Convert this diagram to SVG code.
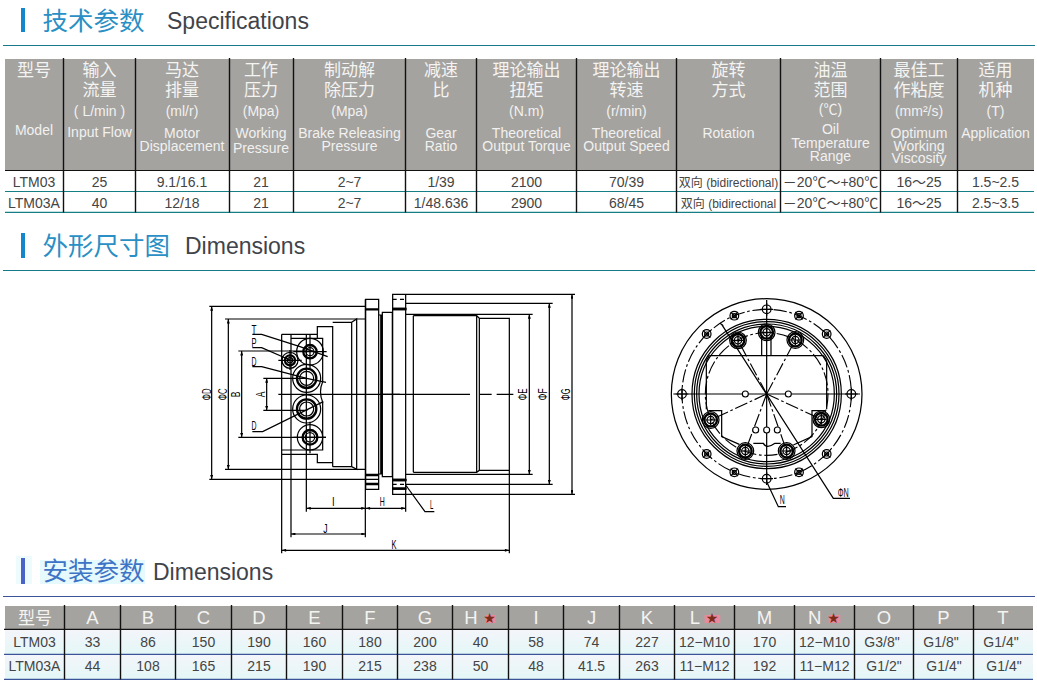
<svg xmlns="http://www.w3.org/2000/svg" width="1037" height="684" viewBox="0 0 1037 684">
<style>
text{font-family:"Liberation Sans","Noto Sans CJK SC",sans-serif}
.cn{font-size:25.5px;fill:#2a8fc4}
.en{font-size:23px;fill:#3f444a}
.hz{font-size:17px;fill:#f4f4f2;text-anchor:middle}
.he{font-size:14px;fill:#f1f1ef;text-anchor:middle}
.r{font-size:14px;fill:#444;text-anchor:middle}
.rs{font-size:12px;fill:#444;text-anchor:middle}
.hl{font-size:18.5px;fill:#f4f4f2;text-anchor:middle}
.st{font-size:14px;fill:#7a2c18;text-anchor:middle;font-family:"DejaVu Sans",sans-serif}
.sep{stroke:#111;stroke-width:1.4}
.d{fill:none;stroke:#000;stroke-width:3.7}
.th{fill:none;stroke:#000;stroke-width:7}
.dim{fill:none;stroke:#000;stroke-width:3.7;marker-start:url(#ah);marker-end:url(#ah)}
.cad{font-size:40px;fill:#000;text-anchor:middle}
.dd{fill:none;stroke:#000;stroke-width:3.4;stroke-dasharray:40 8 8 8}
</style>
<defs>
<marker id="ah" viewBox="0 0 6 4" refX="6" refY="2" markerWidth="5.5" markerHeight="2.4" orient="auto-start-reverse" markerUnits="strokeWidth"><path d="M0 0L6 2L0 4Z" fill="#000"/></marker>
<linearGradient id="rowbg" x1="0" y1="0" x2="0" y2="1"><stop offset="0" stop-color="#f4f5fa"/><stop offset="1" stop-color="#e4f7f7"/></linearGradient>
<g id="bp"><circle r="13" class="d"/><path d="M-19 0H19M0-19V19" class="d"/></g>
<g id="bx"><circle r="13" class="d"/><circle r="6" class="d"/><path d="M-11-11L11 11M-11 11L11-11" class="d"/></g>
<g id="ib"><circle r="25" class="d"/><circle r="19" class="th"/><circle r="11" class="d"/><path d="M-16 0H16M0-16V16" class="d"/></g>
</defs>

<g id="section-specifications">
<rect x="21" y="8" width="4" height="24" fill="#1487cc"/>
<text x="42.5" y="29.5" class="cn">技术参数</text>
<text x="167" y="28.5" class="en">Specifications</text>
<path d="M3 45.5H1035" stroke="#17798a" stroke-width="1.2"/>
</g>

<g id="table-specifications">
<rect x="5" y="59" width="1029" height="111" fill="#a5a3a0"/>
<path d="M5 170.5H1034" stroke="#111" stroke-width="1.2"/>
<path d="M5 191.5H1034M5 212.3H1034" stroke="#157f85" stroke-width="1.2"/>
<path class="sep" d="M63.5 58V212.5M135.5 58V212.5M229.5 58V212.5M293.5 58V212.5M405.5 58V212.5M476.5 58V212.5M576.5 58V212.5M676.5 58V212.5M780.5 58V212.5M880.5 58V212.5M957.5 58V212.5"/>
<text x="34" y="76" class="hz">型号</text><text x="34" y="135" class="he">Model</text>
<text x="99.5" y="76" class="hz">输入</text><text x="99.5" y="96" class="hz">流量</text><text x="99.5" y="116" class="he">( L/min )</text><text x="99.5" y="137" class="he">Input Flow</text>
<text x="182" y="76" class="hz">马达</text><text x="182" y="96" class="hz">排量</text><text x="182" y="116" class="he">(ml/r)</text><text x="182" y="138" class="he">Motor</text><text x="182" y="151" class="he">Displacement</text>
<text x="261" y="76" class="hz">工作</text><text x="261" y="96" class="hz">压力</text><text x="261" y="116" class="he">(Mpa)</text><text x="261" y="138" class="he">Working</text><text x="261" y="153" class="he">Pressure</text>
<text x="349.5" y="76" class="hz">制动解</text><text x="349.5" y="96" class="hz">除压力</text><text x="349.5" y="116" class="he">(Mpa)</text><text x="349.5" y="138" class="he">Brake Releasing</text><text x="349.5" y="151" class="he">Pressure</text>
<text x="441" y="76" class="hz">减速</text><text x="441" y="96" class="hz">比</text><text x="441" y="138" class="he">Gear</text><text x="441" y="151" class="he">Ratio</text>
<text x="526.5" y="76" class="hz">理论输出</text><text x="526.5" y="96" class="hz">扭矩</text><text x="526.5" y="116" class="he">(N.m)</text><text x="526.5" y="138" class="he">Theoretical</text><text x="526.5" y="151" class="he">Output Torque</text>
<text x="626.5" y="76" class="hz">理论输出</text><text x="626.5" y="96" class="hz">转速</text><text x="626.5" y="116" class="he">(r/min)</text><text x="626.5" y="138" class="he">Theoretical</text><text x="626.5" y="151" class="he">Output Speed</text>
<text x="728.5" y="76" class="hz">旋转</text><text x="728.5" y="96" class="hz">方式</text><text x="728.5" y="138" class="he">Rotation</text>
<text x="830.5" y="76" class="hz">油温</text><text x="830.5" y="96" class="hz">范围</text><text x="830.5" y="114" class="he">(℃)</text><text x="830.5" y="134" class="he">Oil</text><text x="830.5" y="148" class="he">Temperature</text><text x="830.5" y="161" class="he">Range</text>
<text x="919" y="76" class="hz">最佳工</text><text x="919" y="96" class="hz">作粘度</text><text x="919" y="116" class="he">(mm²/s)</text><text x="919" y="138" class="he">Optimum</text><text x="919" y="151" class="he">Working</text><text x="919" y="163" class="he">Viscosity</text>
<text x="995.5" y="76" class="hz">适用</text><text x="995.5" y="96" class="hz">机种</text><text x="995.5" y="116" class="he">(T)</text><text x="995.5" y="138" class="he">Application</text>
<text x="34" y="186.5" class="r">LTM03</text><text x="99.5" y="186.5" class="r">25</text><text x="182" y="186.5" class="r">9.1/16.1</text><text x="261" y="186.5" class="r">21</text><text x="349.5" y="186.5" class="r">2~7</text><text x="441" y="186.5" class="r">1/39</text><text x="526.5" y="186.5" class="r">2100</text><text x="626.5" y="186.5" class="r">70/39</text><text x="728.5" y="186.5" class="rs">双向 (bidirectional)</text><text x="830.5" y="186.5" class="r">－20℃～+80℃</text><text x="919" y="186.5" class="r">16～25</text><text x="995.5" y="186.5" class="r">1.5~2.5</text>
<text x="34" y="207.5" class="r">LTM03A</text><text x="99.5" y="207.5" class="r">40</text><text x="182" y="207.5" class="r">12/18</text><text x="261" y="207.5" class="r">21</text><text x="349.5" y="207.5" class="r">2~7</text><text x="441" y="207.5" class="r">1/48.636</text><text x="526.5" y="207.5" class="r">2900</text><text x="626.5" y="207.5" class="r">68/45</text><text x="728.5" y="207.5" class="rs">双向 (bidirectional</text><text x="830.5" y="207.5" class="r">－20℃～+80℃</text><text x="919" y="207.5" class="r">16～25</text><text x="995.5" y="207.5" class="r">2.5~3.5</text>
</g>

<g id="section-outline">
<rect x="21" y="233" width="4" height="25" fill="#1487cc"/>
<text x="42.5" y="255" class="cn">外形尺寸图</text>
<text x="185" y="254" class="en">Dimensions</text>
<path d="M3 270.5H1035" stroke="#17798a" stroke-width="1.2"/>
</g>

<g id="side-view" transform="translate(190 285) scale(.33333)">
<path class="d" d="M58 64H525M105 102H525M58 583H566M105 553H525M145 198H370M145 457H408M220 280H352M220 376H352"/>
<path class="dim" d="M65 64V583"/><path class="dim" d="M115 102V553"/><path class="dim" d="M155 198V457"/><path class="dim" d="M230 280V376"/>
<path class="d" d="M275 148H382M275 148V805M303 148V757M349 150V680M303 160H398V290Q385 320 398 352V495H303M275 495H382M275 508H382V533H428M382 160V125H428V545M428 112H485V545H428M485 112L500 102V553L485 545M485 112V545"/>
<path class="d" d="M527 43H566V613H527ZM566 90H577V567H566ZM577 82H607V575H577ZM526 43V757"/>
<path class="th" d="M527 73H566M527 570H566M527 597H566M574 90V567M607 72H650M607 585H650M607 611H650"/>
<path class="d" d="M265 328H630M187 148H215L330 185L413 215M187 188H215L300 225M187 245H215L350 280L408 292M187 440H218L400 350"/>
<circle cx="360" cy="200" r="40" class="d"/><circle cx="360" cy="200" r="20" class="th"/><circle cx="360" cy="200" r="12" class="d"/>
<path class="d" d="M360 150V250M310 200H410"/>
<circle cx="300" cy="226" r="24" class="d"/><circle cx="300" cy="226" r="15" class="th"/><circle cx="300" cy="226" r="8" class="d"/>
<path class="d" d="M265 226H335M300 195V255"/>
<circle cx="350" cy="280" r="42" class="d"/><circle cx="350" cy="280" r="29" class="th"/><circle cx="350" cy="280" r="21" class="d"/>
<circle cx="350" cy="372" r="42" class="d"/><circle cx="350" cy="372" r="29" class="th"/><circle cx="350" cy="372" r="21" class="d"/>
<circle cx="360" cy="457" r="38" class="d"/><circle cx="360" cy="457" r="22" class="th"/><circle cx="360" cy="457" r="14" class="d"/>
<path class="d" d="M310 457H408M360 410V505"/>
<path class="dim" d="M349 670H527"/><path class="dim" d="M527 670H647"/><path class="dim" d="M303 747H527"/><path class="dim" d="M275 796H958"/>
<text x="192" y="146" class="cad" textLength="15" lengthAdjust="spacingAndGlyphs">T</text>
<text x="192" y="186" class="cad" textLength="15" lengthAdjust="spacingAndGlyphs">P</text>
<text x="192" y="242" class="cad" textLength="15" lengthAdjust="spacingAndGlyphs">D</text>
<text x="192" y="436" class="cad" textLength="15" lengthAdjust="spacingAndGlyphs">D</text>
<text x="430" y="664" class="cad" textLength="8" lengthAdjust="spacingAndGlyphs">I</text>
<text x="577" y="664" class="cad" textLength="15" lengthAdjust="spacingAndGlyphs">H</text>
<text x="406" y="743" class="cad" textLength="13" lengthAdjust="spacingAndGlyphs">J</text>
<text x="612" y="791" class="cad" textLength="15" lengthAdjust="spacingAndGlyphs">K</text>
<text transform="translate(62 328) rotate(-90)" class="cad" textLength="35" lengthAdjust="spacingAndGlyphs">ΦD</text>
<text transform="translate(110 328) rotate(-90)" class="cad" textLength="35" lengthAdjust="spacingAndGlyphs">ΦC</text>
<text transform="translate(150 328) rotate(-90)" class="cad" textLength="17" lengthAdjust="spacingAndGlyphs">B</text>
<text transform="translate(226 328) rotate(-90)" class="cad" textLength="17" lengthAdjust="spacingAndGlyphs">A</text>
</g>

<g id="side-view-right" transform="translate(380 285) scale(.33333)">
<path class="d" d="M38 28H77V628H38ZM38 28H585M77 55H518M77 598H518M38 628H585M77 88H458M77 568H458M100 92V562M100 92H290L298 100V556L290 562H100M298 100H388V556H298M290 92V562M388 556V805M77 628V680M77 600L135 680H163"/>
<path class="d" d="M0 328H270M300 328H335M350 328H400"/>
<path class="d" stroke-dasharray="12 10" d="M38 43H77M38 598H77"/>
<path class="th" d="M38 72H76M38 585H76M38 611H76"/>
<path class="dim" d="M448 88V568"/><path class="dim" d="M508 55V598"/><path class="dim" d="M576 28V628"/>
<text x="155" y="673" class="cad" textLength="10" lengthAdjust="spacingAndGlyphs">L</text>
<text transform="translate(442 328) rotate(-90)" class="cad" textLength="35" lengthAdjust="spacingAndGlyphs">ΦE</text>
<text transform="translate(501 328) rotate(-90)" class="cad" textLength="35" lengthAdjust="spacingAndGlyphs">ΦF</text>
<text transform="translate(571 328) rotate(-90)" class="cad" textLength="35" lengthAdjust="spacingAndGlyphs">ΦG</text>
</g>

<g id="end-view" transform="translate(660 290) scale(.33333)">
<circle cx="320" cy="312" r="286" class="d"/>
<circle cx="320" cy="312" r="254" class="dd"/>
<circle cx="320" cy="312" r="224" class="d"/><circle cx="320" cy="312" r="217" class="d"/><circle cx="320" cy="312" r="210" class="d"/><circle cx="320" cy="312" r="203" class="d"/>
<circle cx="320" cy="312" r="184" class="dd"/>
<path class="d" d="M40 312H600M320 30V585"/>
<path class="d" d="M139 212V358M500 212V358M148 197H490M139 212L148 197M500 212L490 197M305 135V197M333 135V197M303 197H336M145 362H185V440L238 463M495 362H456V440L400 465M280 460H310Q320 478 345 460H362"/>
<path class="dd" d="M320 312L234 151M320 312L406 150M320 312L152 390M320 312L484 388M320 312L256 483M320 312L380 483"/>
<circle cx="256" cy="312" r="9" fill="#fff" stroke="#000" stroke-width="3.4"/><circle cx="385" cy="312" r="9" fill="#fff" stroke="#000" stroke-width="3.4"/>
<circle cx="287" cy="420" r="9" fill="#fff" stroke="#000" stroke-width="3.4"/><circle cx="320" cy="420" r="9" fill="#fff" stroke="#000" stroke-width="3.4"/><circle cx="352" cy="420" r="9" fill="#fff" stroke="#000" stroke-width="3.4"/>
<use href="#bp" x="320" y="58"/><use href="#bx" x="417" y="77"/><use href="#bx" x="223" y="77"/><use href="#bx" x="500" y="132"/><use href="#bx" x="140" y="132"/><use href="#bp" x="574" y="312"/><use href="#bp" x="66" y="312"/><use href="#bx" x="500" y="492"/><use href="#bx" x="140" y="492"/><use href="#bx" x="417" y="547"/><use href="#bx" x="223" y="547"/><use href="#bp" x="320" y="566"/>
<use href="#ib" x="234" y="151"/><use href="#ib" x="320" y="127"/><use href="#ib" x="406" y="150"/><use href="#ib" x="152" y="390"/><use href="#ib" x="484" y="388"/><use href="#ib" x="256" y="483"/><use href="#ib" x="380" y="483"/>
<path class="d" d="M320 575L355 650H378M180 100L190 107M185 103L520 625H570"/>
<text x="367" y="642" class="cad" textLength="15" lengthAdjust="spacingAndGlyphs">N</text>
<text x="550" y="622" class="cad" textLength="33" lengthAdjust="spacingAndGlyphs">ΦN</text>
</g>

<g id="section-install">
<rect x="16" y="556" width="16" height="28" fill="#eefbfc"/>
<rect x="40" y="560" width="105" height="24" fill="#e6f9fc"/>
<rect x="21" y="558" width="4" height="26" fill="#4a63c8"/>
<text x="42.5" y="580" class="cn" style="fill:#3e74c6">安装参数</text>
<text x="153" y="579.5" class="en">Dimensions</text>
<path d="M3 596.5H1035" stroke="#3b5499" stroke-width="1.2"/>
</g>

<g id="table-install">
<rect x="5" y="606" width="1028" height="23" fill="#a5a3a0"/>
<rect x="5" y="629" width="1028" height="25" fill="url(#rowbg)"/>
<rect x="5" y="654" width="1028" height="25" fill="url(#rowbg)"/>
<path d="M4 629.3H1033" stroke="#111" stroke-width="1.2"/>
<path d="M4 654.3H1033M4 679.3H1033" stroke="#3b5499" stroke-width="1.2"/>
<path class="sep" d="M64.5 605V679.5M120.5 605V679.5M175.5 605V679.5M231.5 605V679.5M286.5 605V679.5M342.5 605V679.5M397.5 605V679.5M452.5 605V679.5M508.5 605V679.5M563.5 605V679.5M619.5 605V679.5M674.5 605V679.5M734.5 605V679.5M794.5 605V679.5M854.5 605V679.5M913.5 605V679.5M973.5 605V679.5"/>
<rect x="486" y="615" width="9.7" height="8" fill="#e8899c"/><rect x="704.6" y="615" width="15.6" height="8" fill="#e8899c"/><rect x="828.7" y="615" width="11.6" height="8" fill="#e8899c"/>
<text x="35" y="624" class="hz">型号</text>
<text x="92.5" y="624" class="hl">A</text><text x="148" y="624" class="hl">B</text><text x="203.5" y="624" class="hl">C</text><text x="259" y="624" class="hl">D</text><text x="314.5" y="624" class="hl">E</text><text x="370" y="624" class="hl">F</text><text x="425" y="624" class="hl">G</text><text x="471" y="624" class="hl">H</text><text x="536" y="624" class="hl">I</text><text x="591.5" y="624" class="hl">J</text><text x="647" y="624" class="hl">K</text><text x="695" y="624" class="hl">L</text><text x="764.5" y="624" class="hl">M</text><text x="814.7" y="624" class="hl">N</text><text x="884" y="624" class="hl">O</text><text x="943.5" y="624" class="hl">P</text><text x="1003" y="624" class="hl">T</text>
<text x="489.5" y="623" class="st">★</text><text x="712" y="623" class="st">★</text><text x="833.5" y="623" class="st">★</text>
<text x="34.5" y="647" class="r">LTM03</text><text x="92.5" y="647" class="r">33</text><text x="148" y="647" class="r">86</text><text x="203.5" y="647" class="r">150</text><text x="259" y="647" class="r">190</text><text x="314.5" y="647" class="r">160</text><text x="370" y="647" class="r">180</text><text x="425" y="647" class="r">200</text><text x="480.5" y="647" class="r">40</text><text x="536" y="647" class="r">58</text><text x="591.5" y="647" class="r">74</text><text x="647" y="647" class="r">227</text><text x="704.5" y="647" class="r">12−M10</text><text x="764.5" y="647" class="r">170</text><text x="824.5" y="647" class="r">12−M10</text><text x="882" y="647" class="r">G3/8"</text><text x="941" y="647" class="r">G1/8"</text><text x="1001" y="647" class="r">G1/4"</text>
<text x="34.5" y="671" class="r">LTM03A</text><text x="92.5" y="671" class="r">44</text><text x="148" y="671" class="r">108</text><text x="203.5" y="671" class="r">165</text><text x="259" y="671" class="r">215</text><text x="314.5" y="671" class="r">190</text><text x="370" y="671" class="r">215</text><text x="425" y="671" class="r">238</text><text x="480.5" y="671" class="r">50</text><text x="536" y="671" class="r">48</text><text x="591.5" y="671" class="r">41.5</text><text x="647" y="671" class="r">263</text><text x="704.5" y="671" class="r">11−M12</text><text x="764.5" y="671" class="r">192</text><text x="824.5" y="671" class="r">11−M12</text><text x="884" y="671" class="r">G1/2"</text><text x="944" y="671" class="r">G1/4"</text><text x="1004" y="671" class="r">G1/4"</text>
</g>
</svg>
